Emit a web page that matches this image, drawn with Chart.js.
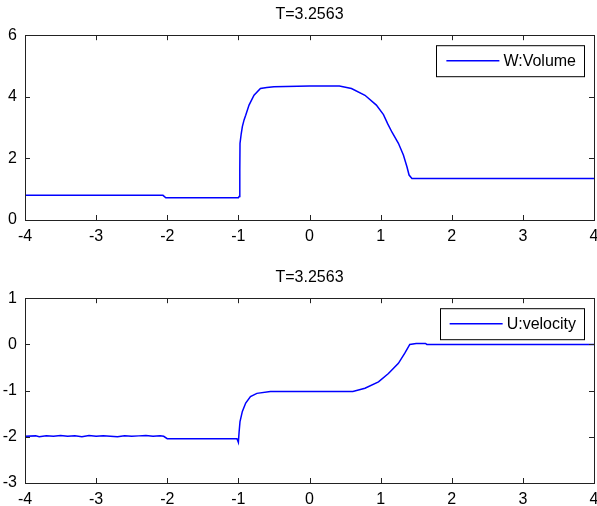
<!doctype html>
<html lang="en">
<head>
  <meta charset="UTF-8">
  <title>T=3.2563</title>
  <script src="https://cdn.jsdelivr.net/npm/chart.js"></script>
  <style>
    body { margin: 0; background: #fff; }
    canvas { position: absolute; left: 0; }
  </style>
</head>
<body>
<canvas id="plotW" width="597" height="250" style="top:0"></canvas>
<canvas id="plotU" width="597" height="243" style="top:263px"></canvas>
<script type="application/javascript">
  // W:Volume (top panel)
  const wX = [-4, -2.06, -2.02, -1.0, -0.99, -0.98, -0.977, -0.96, -0.944, -0.92, -0.897, -0.85, -0.78, -0.69, -0.6, -0.5,
    0, 0.42, 0.59, 0.78, 0.94, 1.04, 1.1, 1.16, 1.25, 1.32, 1.37, 1.4, 1.44, 4];
  const wY = [0.8, 0.8, 0.72, 0.72, 0.76, 1.6, 2.49, 2.8, 3.03, 3.25, 3.4, 3.73, 4.05, 4.27, 4.3, 4.33,
    4.35, 4.35, 4.27, 4.05, 3.73, 3.42, 3.12, 2.85, 2.49, 2.11, 1.73, 1.46, 1.35, 1.35];

  // U:velocity (bottom panel)
  const uX = [-4, -3.85, -3.8, -3.7, -3.6, -3.5, -3.4, -3.3, -3.2, -3.1, -3.0, -2.9, -2.8, -2.7, -2.6, -2.5, -2.4, -2.3,
    -2.2, -2.1, -2.05, -2.0, -1.02, -1.0, -0.99, -0.977, -0.944, -0.897, -0.83, -0.74, -0.55,
    0.61, 0.78, 0.97, 1.11, 1.25, 1.34, 1.41, 1.5, 1.63, 1.65, 4];
  const uY = [-1.99, -1.98, -2.0, -1.98, -1.99, -1.97, -1.99, -1.98, -2.0, -1.97, -1.99, -1.98, -1.99, -2.0, -1.98, -1.99, -1.98, -1.97,
    -1.99, -1.98, -1.99, -2.04, -2.04, -2.12, -1.9, -1.67, -1.45, -1.27, -1.13, -1.06, -1.02,
    -1.02, -0.95, -0.81, -0.63, -0.41, -0.19, 0.0, 0.02, 0.02, 0.0, 0.0];

  const titleText = 'T=3.2563';
  const xMin = -4, xMax = 4;

  Chart.defaults.font.family = '"Liberation Sans", Arial, sans-serif';
  Chart.defaults.color = '#000';

  // box around the axes with inward ticks on all four sides (matlab style)
  const boxPlugin = {
    id: 'box',
    afterDraw(chart) {
      const {ctx, chartArea: a, scales} = chart;
      ctx.save();
      ctx.strokeStyle = '#222';
      ctx.lineWidth = 1;
      ctx.beginPath();
      scales.x.ticks.forEach(t => {
        const px = Math.round(scales.x.getPixelForValue(t.value)) + 0.5;
        ctx.moveTo(px, a.bottom); ctx.lineTo(px, a.bottom - 5);
        ctx.moveTo(px, a.top); ctx.lineTo(px, a.top + 5);
      });
      scales.y.ticks.forEach(t => {
        const py = Math.round(scales.y.getPixelForValue(t.value)) + 0.5;
        ctx.moveTo(a.left, py); ctx.lineTo(a.left + 5, py);
        ctx.moveTo(a.right, py); ctx.lineTo(a.right - 5, py);
      });
      ctx.stroke();
      ctx.strokeRect(Math.round(a.left) + 0.5, Math.round(a.top) + 0.5,
        Math.round(a.right - a.left), Math.round(a.bottom - a.top));
      ctx.restore();
    }
  };

  // legend box in top right corner of the axes
  const legendPlugin = {
    id: 'boxLegend',
    afterDraw(chart) {
      const {ctx, chartArea: a} = chart;
      const ds = chart.data.datasets[0];
      ctx.save();
      ctx.font = '16px "Liberation Sans", Arial, sans-serif';
      const tw = ctx.measureText(ds.label).width;
      const right = a.right - 10, top = a.top + 10, h = 31;
      const textRight = right - 8;
      const textLeft = textRight - tw;
      const lineEnd = textLeft - 4, lineStart = lineEnd - 53;
      const left = lineStart - 10;
      ctx.fillStyle = '#fff';
      ctx.fillRect(left, top, right - left, h);
      ctx.strokeStyle = '#000';
      ctx.lineWidth = 1;
      ctx.strokeRect(Math.round(left) + 0.5, top + 0.5, Math.round(right - left), h);
      const my = top + h / 2;
      ctx.strokeStyle = ds.borderColor;
      ctx.lineWidth = 1.5;
      ctx.beginPath();
      ctx.moveTo(lineStart, my); ctx.lineTo(lineEnd, my);
      ctx.stroke();
      ctx.fillStyle = '#000';
      ctx.textBaseline = 'middle';
      ctx.fillText(ds.label, textLeft, my + 1);
      ctx.restore();
    }
  };

  function makePlot(id, xs, ys, label, yMin, yMax, yStep, xAxisHeight) {
    const ctx = document.getElementById(id).getContext('2d');
    return new Chart(ctx, {
      type: 'scatter',
      data: {
        datasets: [{
          label: label,
          data: xs.map((x, i) => ({x: x, y: ys[i]})),
          showLine: true,
          borderColor: '#0000ff',
          borderWidth: 1.5,
          pointRadius: 0,
          tension: 0
        }]
      },
      options: {
        responsive: false,
        animation: false,
        layout: {padding: {left: 0, right: 3, top: 0, bottom: 0}},
        scales: {
          x: {
            type: 'linear',
            min: xMin,
            max: xMax,
            grid: {display: false, drawTicks: false},
            border: {display: false},
            ticks: {stepSize: 1, autoSkip: false, maxRotation: 0, padding: 7, font: {size: 16}},
            afterFit(s) { s.height = xAxisHeight; s.paddingLeft = 0; s.paddingRight = 0; }
          },
          y: {
            min: yMin,
            max: yMax,
            grid: {display: false, drawTicks: false},
            border: {display: false},
            ticks: {stepSize: yStep, autoSkip: false, padding: 8, font: {size: 16}},
            afterFit(s) { s.width = 25; s.paddingTop = 0; s.paddingBottom = 0; }
          }
        },
        plugins: {
          legend: {display: false},
          tooltip: {enabled: false},
          title: {
            display: true,
            text: titleText,
            fullSize: false,
            color: '#000',
            font: {size: 16, weight: 'normal'},
            padding: {top: 5, bottom: 11}
          }
        }
      },
      plugins: [boxPlugin, legendPlugin]
    });
  }

  makePlot('plotW', wX, wY, 'W:Volume', 0, 6, 2, 30);
  makePlot('plotU', uX, uY, 'U:velocity', -3, 1, 1, 23);
</script>
</body>
</html>
